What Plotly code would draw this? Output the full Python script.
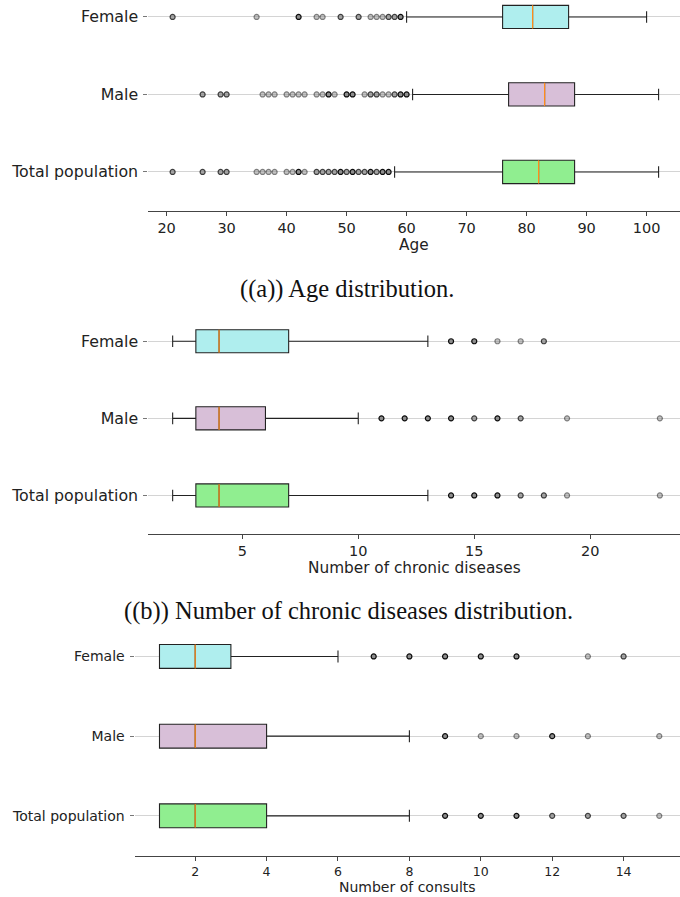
import plotly.graph_objects as go

W, H = 680, 897

# ---------------- data ----------------
groups = ["Total population", "Male", "Female"]   # bottom -> top
group_pos = [1, 2, 3]
group_colors = ["#90EE90", "#D8BFD8", "#AFEEEE"]

# Age
age_q1 = [76, 77, 76]
age_median = [82, 83, 81]
age_q3 = [88, 88, 87]
age_low = [58, 61, 60]
age_high = [102, 102, 100]
age_out_total = [21, 26, 29, 30, 35, 36, 37, 38, 40, 41, 42, 43, 45, 46, 47, 48, 49, 50, 51, 52, 53, 54, 55, 56, 57]
age_out_total_n = [2, 2, 2, 2, 1, 1, 1, 1, 1, 1, 3, 1, 2, 2, 2, 2, 3, 2, 3, 2, 2, 3, 2, 3, 3]
age_out_male = [26, 29, 30, 36, 37, 38, 40, 41, 42, 43, 45, 46, 47, 48, 50, 51, 53, 54, 55, 56, 57, 58, 59, 60]
age_out_male_n = [2, 2, 2, 1, 1, 1, 1, 1, 1, 1, 1, 1, 3, 1, 3, 3, 1, 2, 2, 1, 1, 2, 3, 3]
age_out_female = [21, 35, 42, 45, 46, 49, 52, 54, 55, 56, 57, 58, 59]
age_out_female_n = [2, 1, 3, 1, 1, 2, 2, 1, 1, 1, 2, 2, 3]
age_ticks = [20, 30, 40, 50, 60, 70, 80, 90, 100]

# Number of chronic diseases
chr_q1 = [3, 3, 3]
chr_median = [4, 4, 4]
chr_q3 = [7, 6, 7]
chr_low = [2, 2, 2]
chr_high = [13, 10, 13]
chr_out_total = [14, 15, 16, 17, 18, 19, 23]
chr_out_total_n = [3, 3, 3, 2, 2, 1, 1]
chr_out_male = [11, 12, 13, 14, 15, 16, 17, 19, 23]
chr_out_male_n = [3, 3, 3, 3, 2, 3, 2, 1, 1]
chr_out_female = [14, 15, 16, 17, 18]
chr_out_female_n = [3, 3, 1, 1, 2]
chr_ticks = [5, 10, 15, 20]

# Number of consults
con_q1 = [1, 1, 1]
con_median = [2, 2, 2]
con_q3 = [4, 4, 3]
con_low = [1, 1, 1]
con_high = [8, 8, 6]
con_out_total = [9, 10, 11, 12, 13, 14, 15]
con_out_total_n = [3, 3, 3, 2, 2, 2, 1]
con_out_male = [9, 10, 11, 12, 13, 15]
con_out_male_n = [3, 1, 1, 3, 1, 1]
con_out_female = [7, 8, 9, 10, 11, 13, 14]
con_out_female_n = [3, 3, 3, 3, 3, 1, 2]
con_ticks = [2, 4, 6, 8, 10, 12, 14]

# ---------------- helpers ----------------
def py(px):
    return 1 - px / H

BOX_W = 0.3
shade = {1: 0.5, 2: 0.75, 3: 0.95}
TXT = "#222222"
FONT = "DejaVu Sans"

fig = go.Figure()

panels = [
    dict(ax="", q1=age_q1, med=age_median, q3=age_q3, lo=age_low, hi=age_high,
         outs=[(age_out_total, age_out_total_n), (age_out_male, age_out_male_n), (age_out_female, age_out_female_n)]),
    dict(ax="2", q1=chr_q1, med=chr_median, q3=chr_q3, lo=chr_low, hi=chr_high,
         outs=[(chr_out_total, chr_out_total_n), (chr_out_male, chr_out_male_n), (chr_out_female, chr_out_female_n)]),
    dict(ax="3", q1=con_q1, med=con_median, q3=con_q3, lo=con_low, hi=con_high,
         outs=[(con_out_total, con_out_total_n), (con_out_male, con_out_male_n), (con_out_female, con_out_female_n)]),
]

for p in panels:
    xa, ya = "x" + p["ax"], "y" + p["ax"]
    for i, g in enumerate(groups):
        fig.add_trace(go.Box(
            orientation="h", y=[group_pos[i]], q1=[p["q1"][i]], median=[p["med"][i]],
            q3=[p["q3"][i]], lowerfence=[p["lo"][i]], upperfence=[p["hi"][i]],
            width=BOX_W, whiskerwidth=0.5, fillcolor=group_colors[i],
            line=dict(color="#222222", width=1.1), boxpoints=False,
            name=g, xaxis=xa, yaxis=ya, hoverinfo="skip"))
        # median line (orange, as in matplotlib)
        fig.add_trace(go.Scatter(
            x=[p["med"][i], p["med"][i]],
            y=[group_pos[i] - BOX_W / 2, group_pos[i] + BOX_W / 2],
            mode="lines", line=dict(color="#ff8c1a", width=1.2),
            xaxis=xa, yaxis=ya, hoverinfo="skip"))
        vals, ns = p["outs"][i]
        fig.add_trace(go.Scatter(
            x=vals, y=[group_pos[i]] * len(vals), mode="markers",
            marker=dict(symbol="circle", size=5, color="#8a8a8a",
                        opacity=[shade[n] for n in ns],
                        line=dict(color="#000000", width=1.2)),
            xaxis=xa, yaxis=ya, hoverinfo="skip"))

def xaxis_cfg(dom_left, rng, ticks, tsize):
    return dict(domain=[dom_left / W, 1], range=rng, showline=True, linecolor="#444444",
                linewidth=1, ticks="outside", ticklen=4, tickwidth=1, tickcolor="#444444",
                tickvals=ticks, showgrid=False, zeroline=False,
                tickfont=dict(family=FONT, size=tsize, color=TXT), fixedrange=True)

def yaxis_cfg(top_px, bot_px, ppu, tsize, anchor):
    top_val = 0.5 + (bot_px - top_px) / ppu
    return dict(domain=[py(bot_px), py(top_px)], range=[0.5, top_val], anchor=anchor,
                tickvals=group_pos, ticktext=groups, showgrid=True, gridcolor="#d4d4d4",
                gridwidth=1, showline=False, zeroline=False, ticks="outside", ticklen=4,
                tickcolor="#777777", tickfont=dict(family=FONT, size=tsize, color=TXT),
                ticklabelstandoff=2, fixedrange=True)

# panel geometry (pixels)
p1_left, p1_bot, p1_top, p1_ppu = 148.3, 210.7, 0.0, 77.5
p2_left, p2_bot, p2_top, p2_ppu = 148.3, 534.0, 302.6, 77.1
p3_left, p3_bot, p3_top, p3_ppu = 134.5, 855.7, 616.6, 79.7

fig.update_layout(
    width=W, height=H, margin=dict(l=0, r=0, t=0, b=0),
    paper_bgcolor="white", plot_bgcolor="white", showlegend=False,
    xaxis=dict(xaxis_cfg(p1_left, [16.95, 16.95 + (W - p1_left) / 6.0], age_ticks, 14.5), anchor="y"),
    yaxis=yaxis_cfg(p1_top, p1_bot, p1_ppu, 15.8, "x"),
    xaxis2=dict(xaxis_cfg(p2_left, [0.95, 0.95 + (W - p2_left) / 23.2], chr_ticks, 14.5), anchor="y2"),
    yaxis2=yaxis_cfg(p2_top, p2_bot, p2_ppu, 15.8, "x2"),
    xaxis3=dict(xaxis_cfg(p3_left, [0.3, 0.3 + (W - p3_left) / 35.7], con_ticks, 12.5), anchor="y3"),
    yaxis3=yaxis_cfg(p3_top, p3_bot, p3_ppu, 14.0, "x3"),
)

annots = [
    ("Age", "x domain", 0.5, 245, FONT, 15.3),
    ("Number of chronic diseases", "x2 domain", 0.5, 568, FONT, 15.3),
    ("Number of consults", "x3 domain", 0.5, 887, FONT, 14.0),
    ("((a)) Age distribution.", "paper", 347 / W, 289, "Liberation Serif", 24.5),
    ("((b)) Number of chronic diseases distribution.", "paper", 348 / W, 611, "Liberation Serif", 24.5),
]
for text, xref, x, ypx, fam, size in annots:
    fig.add_annotation(text=text, xref=xref, yref="paper", x=x, y=py(ypx),
                       xanchor="center", yanchor="middle", showarrow=False,
                       font=dict(family=fam, size=size, color="#111111" if fam != FONT else TXT))

fig.write_html("out.html", config={"displayModeBar": False, "staticPlot": True},
               post_script="document.body.style.margin='0';")
